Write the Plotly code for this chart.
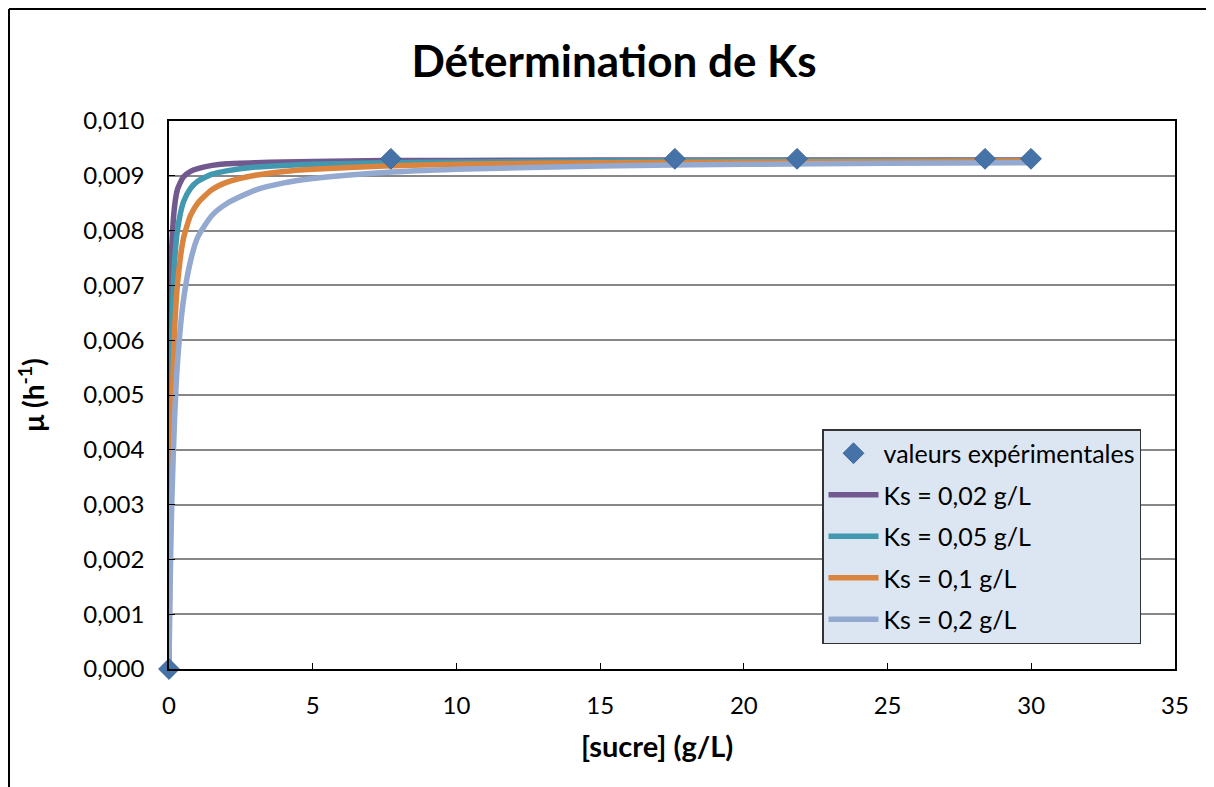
import plotly.graph_objects as go

# Experimental values
sucre_exp = [0, 7.72, 17.6, 21.85, 28.39, 29.99]
mu_exp = [0.0, 0.00931, 0.00931, 0.00931, 0.00931, 0.00931]

# Model curves
sucre = [0, 0.02, 0.05, 0.1, 0.2, 0.3, 0.5, 0.75, 1, 1.5, 2, 3, 4, 5, 7.5, 10, 15, 20, 25, 30]
mu_ks002 = [0, 0.00465, 0.00664, 0.00775, 0.00847, 0.00876, 0.00898, 0.00908, 0.00913, 0.00919,
            0.00922, 0.00924, 0.00925, 0.00926, 0.00928, 0.00928, 0.00929, 0.00929, 0.00929, 0.00929]
mu_ks005 = [0, 0.00266, 0.00465, 0.00620, 0.00748, 0.00803, 0.00852, 0.00877, 0.00890, 0.00903,
            0.00909, 0.00916, 0.00919, 0.00921, 0.00924, 0.00925, 0.00927, 0.00928, 0.00928, 0.00928]
mu_ks01 = [0, 0.00155, 0.00310, 0.00465, 0.00625, 0.00705, 0.00785, 0.00828, 0.00850, 0.00875,
           0.00888, 0.00901, 0.00908, 0.00912, 0.00918, 0.00921, 0.00924, 0.00925, 0.00926, 0.00927]
mu_ks02 = [0, 0.00085, 0.00186, 0.00310, 0.00465, 0.00562, 0.00672, 0.00745, 0.00788, 0.00828,
           0.00849, 0.00874, 0.00887, 0.00895, 0.00906, 0.00912, 0.00918, 0.00921, 0.00923, 0.00924]

curve_names = ["Ks = 0,02 g/L", "Ks = 0,05 g/L", "Ks = 0,1 g/L", "Ks = 0,2 g/L"]
curve_values = [mu_ks002, mu_ks005, mu_ks01, mu_ks02]
curve_colors = ["#71588F", "#4198AF", "#DB843D", "#93A9CF"]

x_ticks = [0, 5, 10, 15, 20, 25, 30, 35]
y_ticks = [0.000, 0.001, 0.002, 0.003, 0.004, 0.005, 0.006, 0.007, 0.008, 0.009, 0.010]

FONT = "Lato, 'Open Sans', sans-serif"

fig = go.Figure()
for i, (name, vals, col) in enumerate(zip(curve_names, curve_values, curve_colors)):
    fig.add_trace(go.Scatter(
        x=sucre, y=vals, mode="lines", name=name,
        line=dict(color=col, width=5.5, shape="spline", smoothing=0.6),
        legendgroup=f"g{i+1}", legendrank=i + 2,
    ))
fig.add_trace(go.Scatter(
    x=sucre_exp, y=mu_exp, mode="markers", name="valeurs expérimentales",
    marker=dict(symbol="diamond", size=16, color="#4572A7", line=dict(color="#3D6699", width=1)),
    cliponaxis=False, legendgroup="g0", legendrank=1,
))

# page body has an 8px margin: figure coords = screen coords - 8
OFF = 8
W, H = 1206, 779
L, R, T, B = 169 - OFF, 1175 - OFF, 121 - OFF, 669 - OFF
def px_to_paper_x(px):
    return (px - OFF - L) / (R - L)
def px_to_paper_y(py):
    return (B - (py - OFF)) / (B - T)

fig.update_layout(
    width=W, height=H,
    margin=dict(l=L, r=W - R, t=T, b=H - B, pad=0),
    paper_bgcolor="white", plot_bgcolor="white",
    separators=", ",
    font=dict(family=FONT, color="black", size=22),
    title=dict(text="<b>Détermination de Ks</b>", x=(614 - OFF) / W, xanchor="center",
               y=1 - (62 - OFF) / H, yanchor="middle", font=dict(size=44, family=FONT)),
    showlegend=True,
    legend=dict(
        x=px_to_paper_x(822), y=px_to_paper_y(429), xanchor="left", yanchor="top",
        bgcolor="#DCE6F2", bordercolor="#333333", borderwidth=1.5,
        font=dict(size=25, family=FONT), traceorder="grouped", tracegroupgap=6,
        itemwidth=50,
    ),
    xaxis=dict(
        range=[0, 35], tickvals=x_ticks, ticktext=[str(v) for v in x_ticks],
        showgrid=False, zeroline=False,
        showline=True, linecolor="black", linewidth=1.5, mirror=True,
        ticks="inside", ticklen=6, tickcolor="black", tickwidth=1.2,
        ticklabelstandoff=14, tickfont=dict(size=24),
    ),
    yaxis=dict(
        range=[0, 0.010], tickvals=y_ticks, tickformat=".3f",
        showgrid=True, gridcolor="#878787", gridwidth=1.5, zeroline=False,
        showline=True, linecolor="black", linewidth=1.5, mirror=True,
        ticks="inside", ticklen=6, tickcolor="black", tickwidth=1.2,
        ticklabelstandoff=18, tickfont=dict(size=24),
        title=dict(text="<b>μ (h<sup>-1</sup>)</b>", font=dict(size=28), standoff=31),
    ),
)

# x-axis title, positioned like the reference
fig.add_annotation(text="<b>[sucre] (g/L)</b>", xref="paper", yref="paper",
                   x=px_to_paper_x(657), y=px_to_paper_y(745), xanchor="center", yanchor="middle",
                   showarrow=False, font=dict(size=29, family=FONT, color="black"))

# Outer chart frame (top and left edges visible)
fig.add_shape(type="line", xref="paper", yref="paper",
              x0=px_to_paper_x(9), x1=px_to_paper_x(1220), y0=px_to_paper_y(9), y1=px_to_paper_y(9),
              line=dict(color="black", width=2))
fig.add_shape(type="line", xref="paper", yref="paper",
              x0=px_to_paper_x(9), x1=px_to_paper_x(9), y0=px_to_paper_y(9), y1=px_to_paper_y(800),
              line=dict(color="black", width=2))

fig.write_html("out.html")
